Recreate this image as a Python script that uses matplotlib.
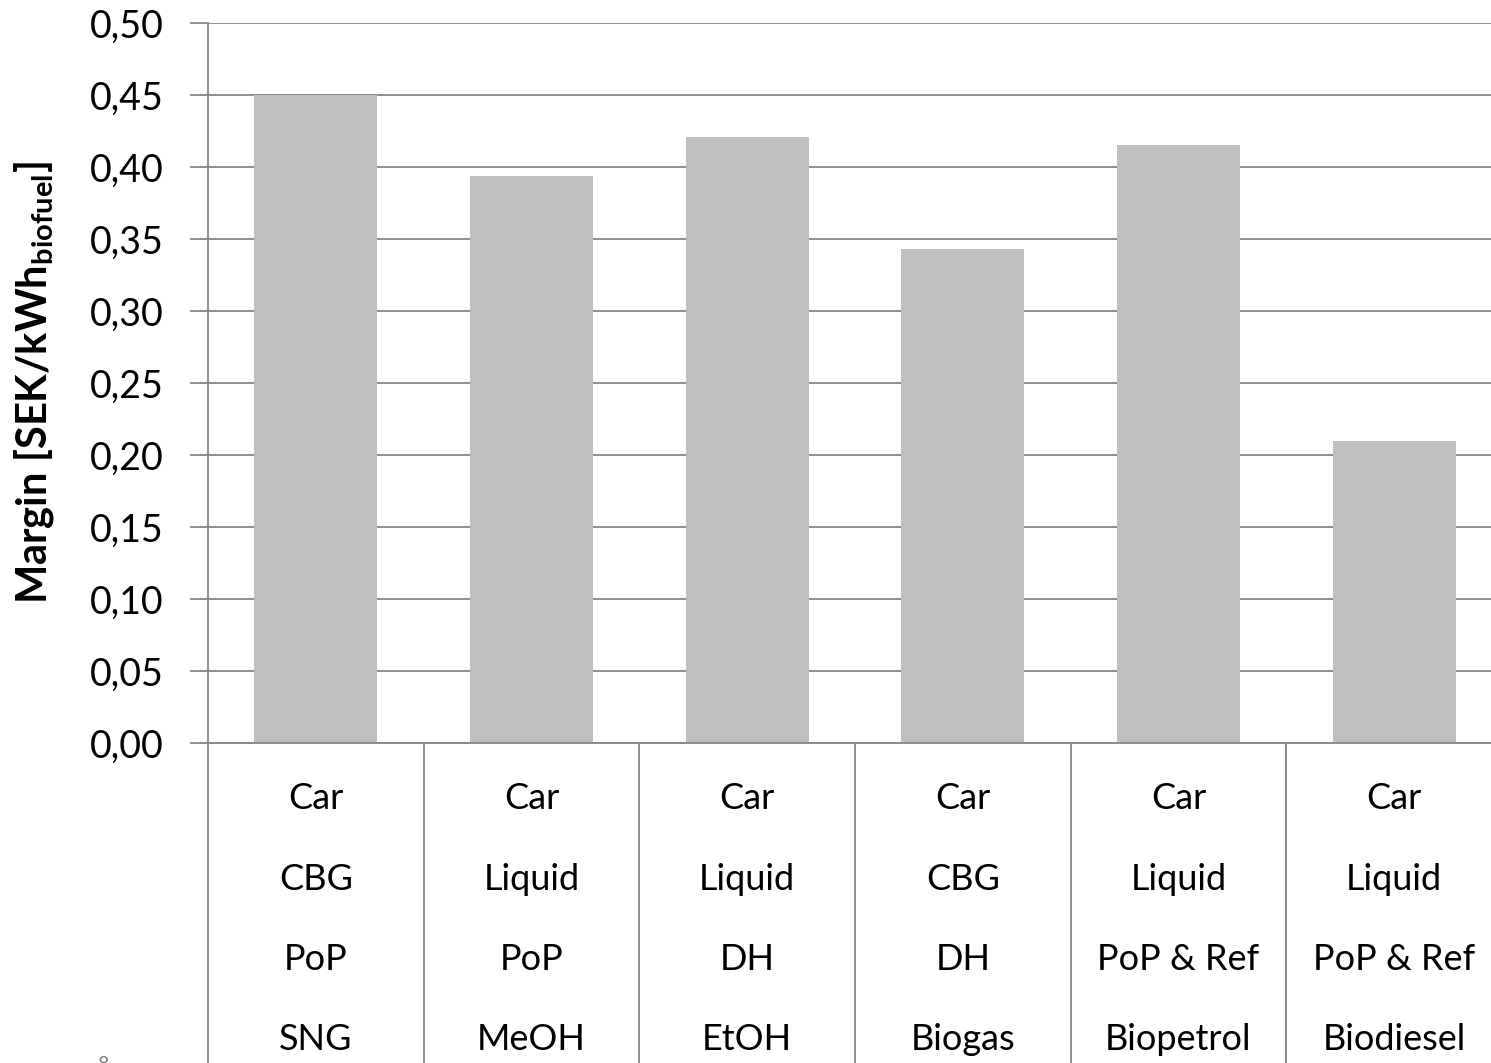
import numpy as np
import matplotlib
matplotlib.use("Agg")
import matplotlib.pyplot as plt
import matplotlib.transforms as mtransforms
from matplotlib.ticker import FuncFormatter

plt.rcParams['font.family'] = ['Lato', 'DejaVu Sans']
plt.rcParams['mathtext.fontset'] = 'custom'
plt.rcParams['mathtext.bf'] = 'Lato:bold'
plt.rcParams['mathtext.rm'] = 'Lato:bold'

# margin per route (vehicle / fuel form / host / product)
vehicle = ["Car", "Car", "Car", "Car", "Car", "Car"]
fuel_form = ["CBG", "Liquid", "Liquid", "CBG", "Liquid", "Liquid"]
host = ["PoP", "PoP", "DH", "DH", "PoP & Ref", "PoP & Ref"]
product = ["SNG", "MeOH", "EtOH", "Biogas", "Biopetrol", "Biodiesel"]
margin = [0.450, 0.394, 0.421, 0.343, 0.415, 0.210]

grey = "#868686"

fig = plt.figure(figsize=(14.91, 10.63), dpi=100)
ax = fig.add_axes([208 / 1491, 1 - 743 / 1063, 1294 / 1491, 720 / 1063])

x = np.arange(len(margin))
ax.bar(x, margin, width=0.57, color="#BFBFBF", zorder=2)

ax.set_xlim(-0.5, len(margin) - 0.5)
ax.set_ylim(0, 0.5)
ax.set_yticks(np.arange(0, 0.501, 0.05))
ax.yaxis.set_major_formatter(FuncFormatter(lambda v, p: f"{v:.2f}".replace(".", ",")))
ax.tick_params(axis="y", labelsize=27, length=13, width=1.3, color=grey, pad=19)
ax.set_xticks([])
ax.grid(axis="y", color=grey, linewidth=1.3, zorder=0)

for side in ["top", "right"]:
    ax.spines[side].set_visible(False)
ax.spines["left"].set_color(grey)
ax.spines["left"].set_linewidth(1.3)
ax.spines["bottom"].set_color(grey)
ax.spines["bottom"].set_linewidth(1.3)

ax.set_ylabel(r"Margin [SEK/kWh$_{\mathbf{biofuel}}$]", fontsize=30,
              fontweight="bold", labelpad=24)

# category table below the axis
trans = mtransforms.blended_transform_factory(ax.transData, ax.transAxes)
for b in np.arange(-0.5, len(margin), 1.0):
    ax.plot([b, b], [0, -0.5], transform=trans, color=grey, linewidth=1.3,
            clip_on=False)

rows = [vehicle, fuel_form, host, product]
row_y = [-0.0764, -0.190, -0.301, -0.4125]
for labels, yy in zip(rows, row_y):
    for i, lab in enumerate(labels):
        ax.text(i, yy, lab, transform=trans, ha="center", va="center",
                fontsize=26, clip_on=False)

fig.text(104 / 1491, 1 - 1056 / 1063, "8", ha="center", va="top",
         fontsize=14, color="#7f7f7f")

fig.savefig("out.png", dpi=100)
